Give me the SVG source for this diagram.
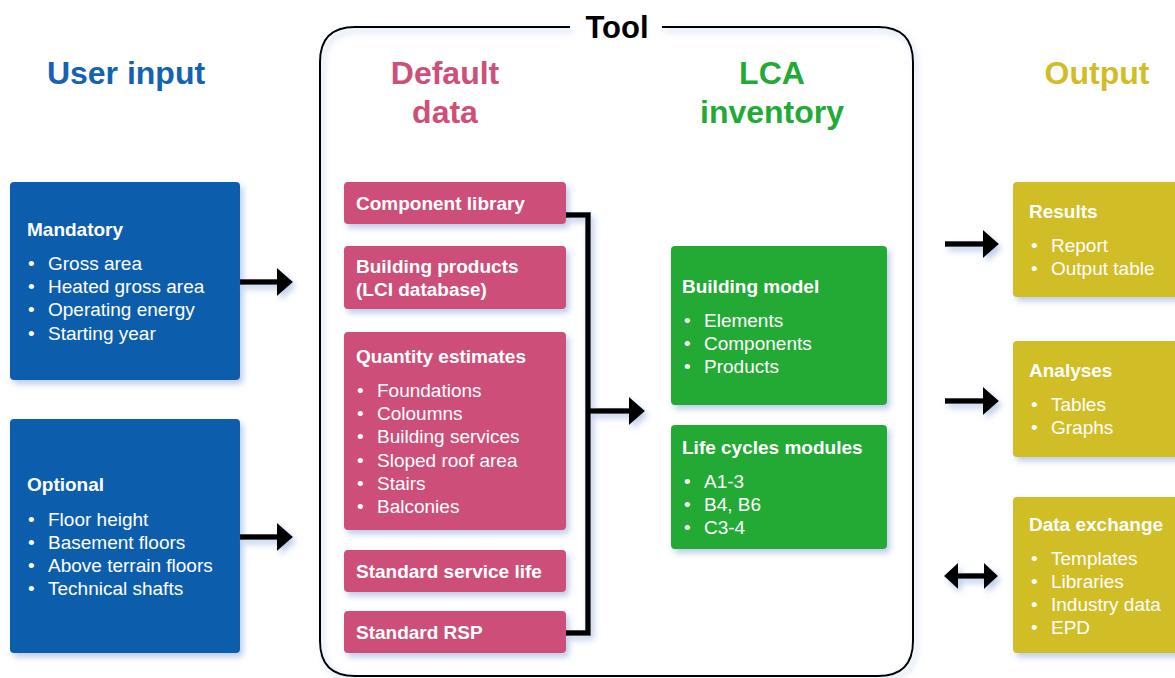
<svg xmlns="http://www.w3.org/2000/svg" width="1175" height="678" viewBox="0 0 1175 678">
<defs>
<filter id="sh" x="-10%" y="-10%" width="130%" height="130%">
<feDropShadow dx="3" dy="4" stdDeviation="3" flood-color="#8fa8d8" flood-opacity="0.6"/>
</filter>
</defs>
<style>
text{font-family:"Liberation Sans",Arial,sans-serif;}
.hd{font-size:32px;font-weight:bold;text-anchor:middle;}
.t{font-size:19px;font-weight:bold;fill:#fff;}
.i{font-size:19px;fill:#fff;}
.blue{fill:#0A5DAD;}
.pink{fill:#CD5079;}
.green{fill:#22AA36;}
.yel{fill:#D1BD27;}
.bx{filter:url(#sh);}
.ln{stroke:#000;stroke-width:5.5;fill:none;}
.hdw{fill:#000;}
</style>
<rect width="1175" height="678" fill="#fff"/>

<g id="headings">
<text class="hd" x="126" y="84" fill="#1462B0">User input</text>
<text class="hd" x="445" y="84" fill="#CD5079">Default</text>
<text class="hd" x="445" y="123" fill="#CD5079">data</text>
<text class="hd" x="772" y="84" fill="#22AA36">LCA</text>
<text class="hd" x="772" y="123" fill="#22AA36">inventory</text>
<text class="hd" x="1097" y="84" fill="#D1BD27">Output</text>
</g>

<g id="tool">
<path d="M570,27 L355,27 Q320,27 320,62 L320,641 Q320,676 355,676 L878,676 Q913,676 913,641 L913,62 Q913,27 878,27 L662,27" fill="none" stroke="#000" stroke-width="2" filter="url(#sh)"/>
<text x="617" y="38" font-size="31" font-weight="bold" text-anchor="middle" fill="#000">Tool</text>
</g>

<g id="mandatory">
<rect class="blue bx" x="10" y="182" width="230" height="198" rx="4"/>
<text class="t" x="27" y="236">Mandatory</text>
<text class="i" x="28" y="270">•</text><text class="i" x="48" y="270">Gross area</text>
<text class="i" x="28" y="293">•</text><text class="i" x="48" y="293">Heated gross area</text>
<text class="i" x="28" y="316">•</text><text class="i" x="48" y="316">Operating energy</text>
<text class="i" x="28" y="340">•</text><text class="i" x="48" y="340">Starting year</text>
</g>

<g id="optional">
<rect class="blue bx" x="10" y="419" width="230" height="234" rx="4"/>
<text class="t" x="27" y="491">Optional</text>
<text class="i" x="28" y="526">•</text><text class="i" x="48" y="526">Floor height</text>
<text class="i" x="28" y="549">•</text><text class="i" x="48" y="549">Basement floors</text>
<text class="i" x="28" y="572">•</text><text class="i" x="48" y="572">Above terrain floors</text>
<text class="i" x="28" y="595">•</text><text class="i" x="48" y="595">Technical shafts</text>
</g>

<g id="component-library">
<rect class="pink bx" x="344" y="182" width="222" height="42" rx="4"/>
<text class="t" x="356" y="210">Component library</text>
</g>
<g id="building-products">
<rect class="pink bx" x="344" y="246" width="222" height="63" rx="4"/>
<text class="t" x="356" y="273">Building products</text>
<text class="t" x="356" y="296">(LCI database)</text>
</g>
<g id="quantity-estimates">
<rect class="pink bx" x="344" y="332" width="222" height="198" rx="4"/>
<text class="t" x="356" y="363">Quantity estimates</text>
<text class="i" x="357" y="397">•</text><text class="i" x="377" y="397">Foundations</text>
<text class="i" x="357" y="420">•</text><text class="i" x="377" y="420">Coloumns</text>
<text class="i" x="357" y="443">•</text><text class="i" x="377" y="443">Building services</text>
<text class="i" x="357" y="467">•</text><text class="i" x="377" y="467">Sloped roof area</text>
<text class="i" x="357" y="490">•</text><text class="i" x="377" y="490">Stairs</text>
<text class="i" x="357" y="513">•</text><text class="i" x="377" y="513">Balconies</text>
</g>
<g id="standard-service-life">
<rect class="pink bx" x="344" y="550" width="222" height="42" rx="4"/>
<text class="t" x="356" y="578">Standard service life</text>
</g>
<g id="standard-rsp">
<rect class="pink bx" x="344" y="611" width="222" height="42" rx="4"/>
<text class="t" x="356" y="639">Standard RSP</text>
</g>

<g id="building-model">
<rect class="green bx" x="671" y="246" width="216" height="159" rx="4"/>
<text class="t" x="682" y="293">Building model</text>
<text class="i" x="684" y="327">•</text><text class="i" x="704" y="327">Elements</text>
<text class="i" x="684" y="350">•</text><text class="i" x="704" y="350">Components</text>
<text class="i" x="684" y="373">•</text><text class="i" x="704" y="373">Products</text>
</g>
<g id="life-cycles-modules">
<rect class="green bx" x="671" y="425" width="216" height="124" rx="4"/>
<text class="t" x="682" y="454">Life cycles modules</text>
<text class="i" x="684" y="488">•</text><text class="i" x="704" y="488">A1-3</text>
<text class="i" x="684" y="511">•</text><text class="i" x="704" y="511">B4, B6</text>
<text class="i" x="684" y="534">•</text><text class="i" x="704" y="534">C3-4</text>
</g>

<g id="results">
<rect class="yel bx" x="1013" y="182" width="175" height="115" rx="4"/>
<text class="t" x="1029" y="218">Results</text>
<text class="i" x="1031" y="252">•</text><text class="i" x="1051" y="252">Report</text>
<text class="i" x="1031" y="275">•</text><text class="i" x="1051" y="275">Output table</text>
</g>
<g id="analyses">
<rect class="yel bx" x="1013" y="341" width="175" height="116" rx="4"/>
<text class="t" x="1029" y="377">Analyses</text>
<text class="i" x="1031" y="411">•</text><text class="i" x="1051" y="411">Tables</text>
<text class="i" x="1031" y="434">•</text><text class="i" x="1051" y="434">Graphs</text>
</g>
<g id="data-exchange">
<rect class="yel bx" x="1013" y="497" width="175" height="156" rx="4"/>
<text class="t" x="1029" y="531">Data exchange</text>
<text class="i" x="1031" y="565">•</text><text class="i" x="1051" y="565">Templates</text>
<text class="i" x="1031" y="588">•</text><text class="i" x="1051" y="588">Libraries</text>
<text class="i" x="1031" y="611">•</text><text class="i" x="1051" y="611">Industry data</text>
<text class="i" x="1031" y="634">•</text><text class="i" x="1051" y="634">EPD</text>
</g>

<g id="connectors" filter="url(#sh)">
<path class="ln" d="M566,215 L588,215 L588,633 L566,633"/>
<line class="ln" x1="588" y1="411" x2="632" y2="411"/>
<polygon class="hdw" points="629,397 645,411 629,425"/>
<line class="ln" x1="240" y1="282" x2="280" y2="282"/>
<polygon class="hdw" points="277,268 293,282 277,296"/>
<line class="ln" x1="240" y1="537" x2="280" y2="537"/>
<polygon class="hdw" points="277,523 293,537 277,551"/>
<line class="ln" x1="945" y1="244" x2="986" y2="244"/>
<polygon class="hdw" points="983,230 999,244 983,258"/>
<line class="ln" x1="945" y1="401" x2="986" y2="401"/>
<polygon class="hdw" points="983,387 999,401 983,415"/>
<line class="ln" x1="955" y1="576" x2="988" y2="576"/>
<polygon class="hdw" points="958,563 944,576 958,589"/>
<polygon class="hdw" points="984,563 998,576 984,589"/>
</g>
</svg>
